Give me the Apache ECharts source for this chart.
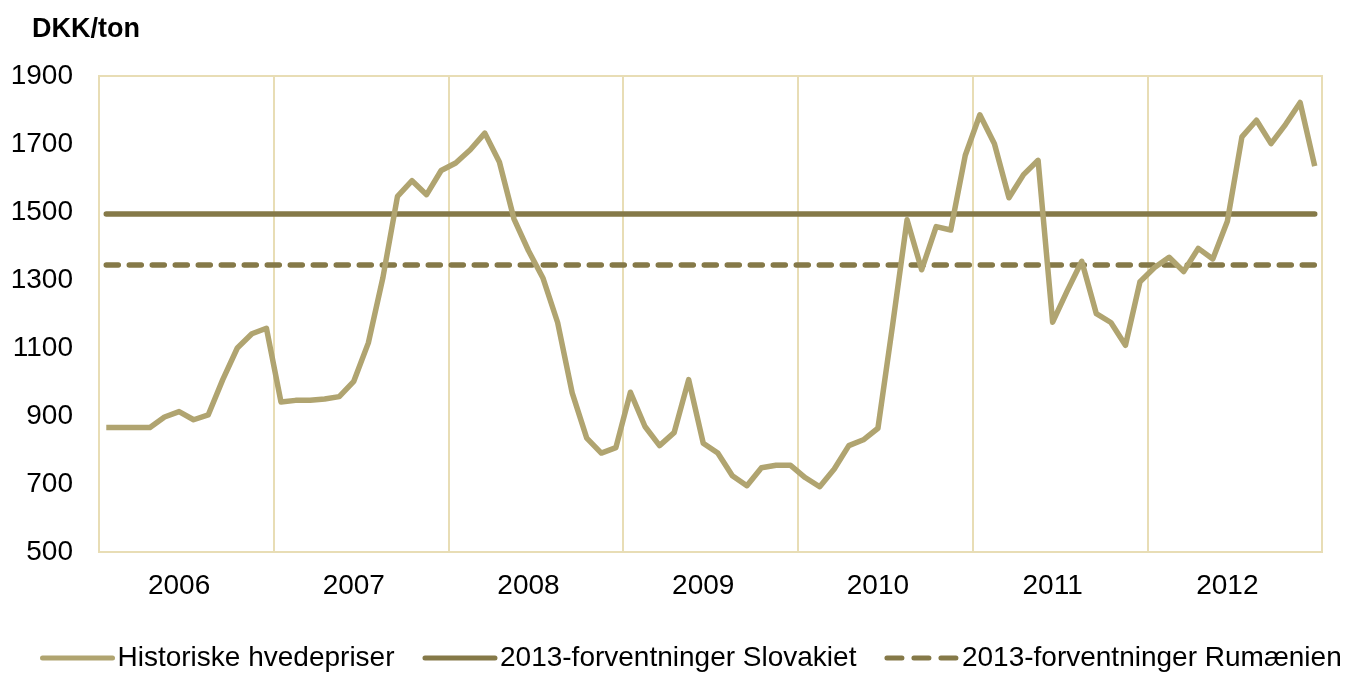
<!DOCTYPE html>
<html>
<head>
<meta charset="utf-8">
<script src="https://cdn.jsdelivr.net/npm/echarts@6/dist/echarts.min.js"></script>
<style>
  html, body { margin: 0; padding: 0; background: #fff; }
  #chart { width: 1345px; height: 673px; }
</style>
</head>
<body>
<div id="chart"></div>
<script>
// år på x-aksen, en kategori pr. måned
const years = ['2006', '2007', '2008', '2009', '2010', '2011', '2012'];
const monthNos = ['01', '02', '03', '04', '05', '06', '07', '08', '09', '10', '11', '12'];

// historiske hvedepriser, DKK/ton, jan 2006 - dec 2012
const hvedepriser = [
  866, 866, 866, 866, 897, 913, 889, 903, 1007, 1100, 1142, 1158,
  941, 946, 946, 950, 957, 1002, 1115, 1307, 1546, 1592, 1551, 1622,
  1644, 1683, 1732, 1647, 1480, 1386, 1305, 1175, 968, 835, 791, 807,
  970, 869, 813, 851, 1007, 820, 791, 724, 695, 748, 755, 755,
  719, 692, 744, 813, 830, 864, 1165, 1477, 1330, 1457, 1447, 1667,
  1786, 1701, 1542, 1610, 1652, 1176, 1268, 1355, 1201, 1175, 1108, 1295,
  1337, 1367, 1325, 1393, 1362, 1473, 1721, 1770, 1701, 1758, 1822, 1635
];

// 2013-forventninger
const slovakiet = 1494;
const rumaenien = 1344;

const yTicks = { min: 500, max: 1900, interval: 200 };

const months = [];
years.forEach(function (y) {
  monthNos.forEach(function (m) { months.push(y + '-' + m); });
});
const first = months[0];
const last = months[months.length - 1];

const font = 'Liberation Sans, Arial, sans-serif';
const gridColor = '#e8ddb5';

let myChart = echarts.init(document.getElementById('chart'));
myChart.setOption({
  animation: false,
  textStyle: { fontFamily: font },
  title: {
    text: 'DKK/ton',
    left: 27,
    top: 11,
    textStyle: { fontFamily: font, fontSize: 27, fontWeight: 'bold', color: '#000' }
  },
  legend: {
    bottom: -4,
    left: 35,
    width: 1310,
    padding: 5,
    itemWidth: 70,
    itemHeight: 14,
    itemGap: 28,
    itemStyle: { opacity: 0 },
    lineStyle: { width: 5, cap: 'round' },
    textStyle: { fontFamily: font, fontSize: 28, color: '#000' },
    data: [
      'Historiske hvedepriser',
      '2013-forventninger Slovakiet',
      { name: '2013-forventninger Rumænien', lineStyle: { type: [15, 12] } }
    ]
  },
  grid: {
    left: 99,
    right: 23,
    top: 76,
    bottom: 121,
    show: true,
    borderColor: gridColor,
    borderWidth: 2
  },
  xAxis: {
    type: 'category',
    data: months,
    boundaryGap: true,
    axisLine: { show: false },
    axisTick: { show: false },
    axisLabel: {
      interval: function (index) { return index % 12 === 5; },
      formatter: function (v) { return v.slice(0, 4); },
      margin: 20,
      fontFamily: font,
      fontSize: 28,
      color: '#000'
    },
    splitLine: {
      show: true,
      interval: function (index) { return index % 12 === 0; },
      lineStyle: { color: gridColor, width: 2 }
    }
  },
  yAxis: {
    type: 'value',
    min: yTicks.min,
    max: yTicks.max,
    interval: yTicks.interval,
    axisLine: { show: false },
    axisTick: { show: false },
    splitLine: { show: false },
    axisLabel: {
      margin: 26,
      fontFamily: font,
      fontSize: 28,
      color: '#000',
      formatter: function (v) { return String(v); }
    }
  },
  series: [
    {
      name: 'Historiske hvedepriser',
      type: 'line',
      data: hvedepriser,
      symbol: 'none',
      lineStyle: { color: '#b0a470', width: 5.5, join: 'round' },
      itemStyle: { color: '#b0a470' },
      z: 3
    },
    {
      name: '2013-forventninger Slovakiet',
      type: 'line',
      data: [[first, slovakiet], [last, slovakiet]],
      symbol: 'none',
      lineStyle: { color: '#857948', width: 5.5, cap: 'round' },
      itemStyle: { color: '#857948' },
      z: 2
    },
    {
      name: '2013-forventninger Rumænien',
      type: 'line',
      data: [[first, rumaenien], [last, rumaenien]],
      symbol: 'none',
      lineStyle: { color: '#857948', width: 5.5, type: [12, 11], cap: 'round' },
      itemStyle: { color: '#857948' },
      z: 2
    }
  ]
});
</script>
</body>
</html>
